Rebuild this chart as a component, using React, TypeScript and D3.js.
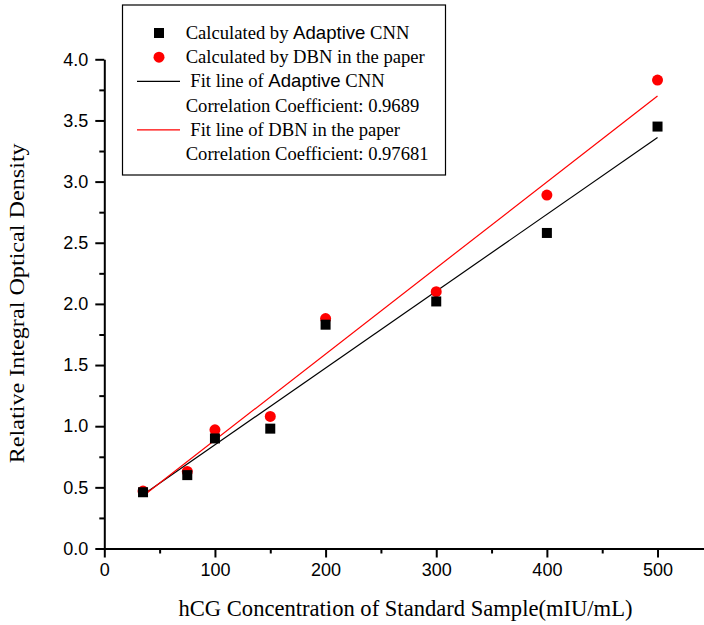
import * as d3 from "d3";
import React, { useEffect, useRef } from "react";

// hCG concentrations (mIU/mL)
const concentrations = [35, 75, 100, 150, 200, 300, 400, 500];
// relative integral optical density
const cnnValues = [0.46, 0.6, 0.9, 0.98, 1.83, 2.02, 2.58, 3.45];
const dbnValues = [0.47, 0.63, 0.97, 1.08, 1.88, 2.1, 2.89, 3.83];
// fit line end points
const cnnFit = [[35, 0.44], [500, 3.36]];
const dbnFit = [[35, 0.43], [500, 3.7]];

const xTicks = [0, 100, 200, 300, 400, 500];
const xMinor = [50, 150, 250, 350, 450];
const yTicks = [0, 0.5, 1, 1.5, 2, 2.5, 3, 3.5, 4];
const yMinor = [0.25, 0.75, 1.25, 1.75, 2.25, 2.75, 3.25, 3.75];

const W = 704;
const H = 625;
const serif = "'Liberation Serif', 'Times New Roman', serif";
const sans = "'Liberation Sans', Arial, sans-serif";

const App = () => {
  const svgRef = useRef(null);

  useEffect(() => {
    const svg = d3.select(svgRef.current);
    svg.selectAll("*").remove();

    const x = d3.scaleLinear().domain([0, 542]).range([104.3, 704]);
    const y = d3.scaleLinear().domain([0, 4]).range([548.5, 59.3]);

    // axes
    const xAxis = svg.append("g").attr("transform", `translate(0, ${y(0)})`);
    xAxis.call(d3.axisBottom(x).tickValues(xTicks).tickSize(9).tickSizeOuter(0).tickPadding(6).tickFormat(d3.format("d")));
    const xm = svg.append("g").attr("transform", `translate(0, ${y(0)})`);
    xm.call(d3.axisBottom(x).tickValues(xMinor).tickSize(5).tickSizeOuter(0).tickFormat(() => ""));
    xm.select(".domain").remove();

    const yAxis = svg.append("g").attr("transform", `translate(${x(0)}, 0)`);
    yAxis.call(d3.axisLeft(y).tickValues(yTicks).tickSize(9).tickSizeOuter(0).tickPadding(7).tickFormat(d3.format(".1f")));
    const ym = svg.append("g").attr("transform", `translate(${x(0)}, 0)`);
    ym.call(d3.axisLeft(y).tickValues(yMinor).tickSize(5).tickSizeOuter(0).tickFormat(() => ""));
    ym.select(".domain").remove();

    svg.selectAll(".domain, .tick line").attr("stroke", "#000").attr("stroke-width", 2);
    svg.selectAll(".tick text").attr("font-family", sans).attr("font-size", 18).attr("fill", "#000");

    // fit lines
    const line = d3.line().x(d => x(d[0])).y(d => y(d[1]));
    svg.append("path").attr("d", line(cnnFit)).attr("stroke", "#000").attr("stroke-width", 1.2).attr("fill", "none");
    svg.append("path").attr("d", line(dbnFit)).attr("stroke", "#ff0000").attr("stroke-width", 1.2).attr("fill", "none");

    // points
    svg.selectAll("circle.dbn")
      .data(concentrations)
      .enter()
      .append("circle")
      .attr("class", "dbn")
      .attr("cx", d => x(d))
      .attr("cy", (d, i) => y(dbnValues[i]))
      .attr("r", 5.5)
      .attr("fill", "#ff0000");

    svg.selectAll("rect.cnn")
      .data(concentrations)
      .enter()
      .append("rect")
      .attr("class", "cnn")
      .attr("x", d => x(d) - 5)
      .attr("y", (d, i) => y(cnnValues[i]) - 5)
      .attr("width", 10)
      .attr("height", 10)
      .attr("fill", "#000");

    // axis titles
    svg.append("text")
      .attr("x", 405.5)
      .attr("y", 616)
      .attr("text-anchor", "middle")
      .attr("font-family", serif)
      .attr("font-size", 22.6)
      .attr("textLength", 454)
      .attr("lengthAdjust", "spacingAndGlyphs")
      .text("hCG Concentration of Standard Sample(mIU/mL)");

    svg.append("text")
      .attr("transform", `translate(24, 303.3) rotate(-90)`)
      .attr("text-anchor", "middle")
      .attr("font-family", serif)
      .attr("font-size", 20.5)
      .attr("textLength", 320)
      .attr("lengthAdjust", "spacingAndGlyphs")
      .text("Relative Integral Optical Density");

    // legend
    const lg = svg.append("g");
    lg.append("rect").attr("x", 122.5).attr("y", 5).attr("width", 323).attr("height", 170)
      .attr("fill", "#fff").attr("stroke", "#000").attr("stroke-width", 1.2);

    const rows = [
      { kind: "square", parts: [["Calculated by ", serif], ["Adaptive", sans], [" CNN", serif]] },
      { kind: "circle", parts: [["Calculated by DBN in the paper", serif]] },
      { kind: "black", parts: [[" Fit line of ", serif], ["Adaptive", sans], [" CNN", serif]] },
      { kind: "none", parts: [["Correlation Coefficient: 0.9689", serif]] },
      { kind: "red", parts: [[" Fit line of DBN in the paper", serif]] },
      { kind: "none", parts: [["Correlation Coefficient: 0.97681", serif]] },
    ];
    rows.forEach((r, i) => {
      const cy = 33 + i * 24.2;
      if (r.kind === "square") {
        lg.append("rect").attr("x", 154).attr("y", cy - 5).attr("width", 10).attr("height", 10).attr("fill", "#000");
      } else if (r.kind === "circle") {
        lg.append("circle").attr("cx", 159).attr("cy", cy).attr("r", 5.5).attr("fill", "#ff0000");
      } else if (r.kind === "black" || r.kind === "red") {
        lg.append("line").attr("x1", 137).attr("x2", 180).attr("y1", cy).attr("y2", cy)
          .attr("stroke", r.kind === "red" ? "#ff0000" : "#000").attr("stroke-width", 1.2);
      }
      const t = lg.append("text")
        .attr("x", 185.7)
        .attr("y", cy + 6)
        .attr("font-size", 18.6)
        .attr("xml:space", "preserve")
        .style("white-space", "pre");
      r.parts.forEach(p => {
        t.append("tspan").attr("font-family", p[1]).text(p[0]);
      });
    });
  }, []);

  return (
    <svg
      ref={svgRef}
      width={W}
      height={H}
      style={{ position: "absolute", left: 0, top: 0, background: "#fff" }}
    />
  );
};

export default App;
